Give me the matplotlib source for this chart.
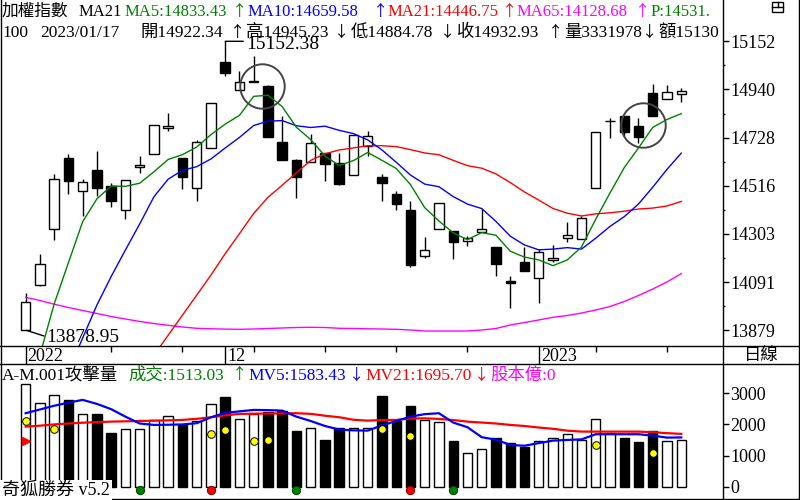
import numpy as np
import matplotlib
matplotlib.use("Agg")
from matplotlib import pyplot as plt
from matplotlib.lines import Line2D
from matplotlib.patches import Rectangle

plt.rcParams['font.family'] = ['Liberation Serif', 'Noto Sans CJK TC', 'DejaVu Sans']

W, H = 800, 500

# daily candles, 2022/11/11 .. 2023/01/17
opens = [13878.95, 14079.9, 14326.7, 14638.2, 14491.5, 14585.3, 14514.8, 14407.7, 14598.5, 14654.5,
         14769.1, 14638.2, 14504.7, 14680.9, 15059.9, 14936.5, 14973.5, 14955.4, 14708.7, 14629.4,
         14621.9, 14658.9, 14614.8, 14562.0, 14692.4, 14554.5, 14479.6, 14409.1, 14205.0, 14324.0,
         14315.2, 14271.1, 14310.8, 14244.7, 14096.2, 14178.6, 14108.1, 14187.4, 14284.4, 14280.0,
         14504.7, 14800.0, 14823.2, 14779.2, 14924.6, 14896.8, 14922.34]
highs = [14042.0, 14215.2, 14567.7, 14655.8, 14545.7, 14669.0, 14526.7, 14539.9, 14647.0, 14782.3,
         14836.5, 14638.2, 14717.5, 14880.5, 15152.38, 15021.5, 15087.6, 14959.8, 14821.9, 14633.8,
         14743.9, 14658.9, 14660.2, 14738.2, 14757.2, 14567.7, 14492.8, 14448.7, 14288.8, 14438.6,
         14315.2, 14295.8, 14413.5, 14244.7, 14116.9, 14247.3, 14235.9, 14253.5, 14356.2, 14382.6,
         14751.4, 14814.4, 14823.2, 14813.1, 14964.3, 14959.8, 14945.23]
lows = [13878.95, 14075.5, 14276.9, 14479.6, 14383.9, 14472.1, 14423.6, 14369.4, 14573.4, 14654.5,
        14758.5, 14502.9, 14450.0, 14680.9, 15000.8, 14936.5, 14973.1, 14732.0, 14630.7, 14463.3,
        14621.9, 14538.2, 14517.9, 14562.0, 14648.3, 14450.0, 14410.4, 14159.2, 14198.9, 14324.0,
        14194.5, 14251.8, 14310.8, 14119.6, 13978.6, 14139.0, 14000.6, 14178.6, 14269.4, 14280.0,
        14504.7, 14727.6, 14735.1, 14703.0, 14824.6, 14896.8, 14884.78]
closes = [14002.4, 14169.8, 14545.7, 14538.2, 14531.1, 14507.3, 14450.0, 14539.9, 14607.3, 14782.3,
          14779.2, 14555.8, 14707.4, 14880.5, 15014.0, 14971.7, 14975.3, 14732.0, 14630.7, 14555.8,
          14703.0, 14613.1, 14523.6, 14738.2, 14735.1, 14529.4, 14434.2, 14168.0, 14231.5, 14438.6,
          14269.4, 14284.4, 14324.0, 14172.4, 14087.4, 14139.0, 14222.7, 14197.6, 14297.6, 14372.5,
          14751.4, 14802.0, 14754.1, 14732.0, 14824.6, 14927.7, 14932.93]

nan = np.nan
ma5 = [nan, 13770, 13994.9, 14176.8, 14357.4, 14458.4, 14514.5, 14513.3, 14527.1, 14577.4,
       14631.7, 14652.9, 14686.4, 14741.0, 14787.4, 14825.9, 14909.8, 14914.7, 14864.7, 14773.1,
       14719.4, 14646.9, 14605.2, 14626.7, 14662.6, 14627.9, 14592.1, 14521.0, 14419.6, 14360.3,
       14308.3, 14278.4, 14309.6, 14297.8, 14227.5, 14201.4, 14189.1, 14163.8, 14188.9, 14245.9,
       14368.4, 14484.2, 14595.5, 14682.4, 14772.8, 14808.1, 14833.43]
ma10 = [nan, nan, nan, 13699.6, 13845.0, 13990.4, 14116.0, 14232.8, 14347.4, 14467.4,
        14545.1, 14583.7, 14599.9, 14634.1, 14682.4, 14728.8, 14781.3, 14800.6, 14802.9, 14780.2,
        14772.6, 14778.4, 14760.0, 14745.7, 14717.9, 14673.6, 14619.5, 14563.1, 14523.2, 14511.5,
        14468.1, 14435.2, 14415.3, 14358.7, 14293.9, 14254.9, 14233.7, 14236.7, 14243.3, 14236.7,
        14284.9, 14336.7, 14379.7, 14435.6, 14509.4, 14588.2, 14659.58]
ma21 = [nan, nan, nan, nan, nan, nan, nan, nan, nan, 13770,
        13857.0, 13945.5, 14033.6, 14122.2, 14216.5, 14304.6, 14394.1, 14464.6, 14518.3, 14573.0,
        14627.6, 14656.7, 14673.5, 14682.7, 14692.1, 14692.0, 14688.5, 14675.1, 14660.4, 14652.4,
        14627.9, 14604.4, 14593.3, 14567.9, 14530.1, 14488.4, 14452.8, 14415.7, 14395.0, 14382.7,
        14392.1, 14396.8, 14403.5, 14413.4, 14417.5, 14426.7, 14446.75]
ma65 = [14024.4, 14010.3, 13994.0, 13979.4, 13966.2, 13953.0, 13939.8, 13928.8, 13917.8, 13908.9,
        13901.0, 13893.5, 13887.8, 13885.6, 13884.3, 13883.4, 13884.7, 13886.9, 13889.1, 13891.3,
        13892.2, 13891.3, 13887.8, 13886.9, 13885.6, 13884.7, 13883.4, 13880.3, 13875.9, 13875.9,
        13875.9, 13875.9, 13880.3, 13886.9, 13902.3, 13913.3, 13924.4, 13936.3, 13944.2, 13955.2,
        13968.4, 13983.9, 14005.9, 14032.3, 14061.0, 14091.8, 14128.68]

# attack volume
vol = [3302, 2691, 2949, 2788, 2338, 2338, 1727, 1846, 1846, 2145, 2273, 1974, 2122, 2659, 2884, 2177,
       2328, 2412, 2444, 1801, 1878, 1502, 1878, 1878, 1878, 2916, 2100, 2595, 2145, 2070, 1469, 1073,
       1212, 1566, 1405, 1286, 1469, 1566, 1685, 1502, 2177, 1717, 1566, 1437, 1801, 1469, 1513]
mv5 = [2360, 2480, 2600, 2700, 2788, 2660, 2490, 2250, 2030, 1984, 1990, 2000, 2040, 2230, 2370, 2420,
       2466, 2460, 2444, 2250, 2110, 1950, 1835, 1810, 1801, 1970, 2110, 2250, 2330, 2360, 2060, 1910,
       1590, 1510, 1341, 1315, 1400, 1480, 1502, 1520, 1685, 1685, 1685, 1685, 1640, 1576, 1583]
mv21 = [1929, 1960, 2000, 2030, 2055, 2075, 2090, 2100, 2110, 2120, 2130, 2145, 2180, 2230, 2290, 2338,
        2345, 2350, 2355, 2360, 2340, 2280, 2231, 2150, 2122, 2140, 2145, 2190, 2195, 2177, 2140, 2090,
        2060, 2030, 1984, 1950, 1900, 1860, 1800, 1770, 1769, 1769, 1769, 1769, 1750, 1720, 1696]

# signal markers in the volume panel
yellow_idx = [0, 2, 13, 14, 16, 17, 25, 27, 40, 44]
yellow_val = [2122, 1855, 1695, 1823, 1479, 1502, 1855, 1630, 1341, 1093]
flag_idx, flag_val = [0], [1480]
green_dot_idx = [8, 19, 30]
red_dot_idx = [13, 27]

# circled spots on the price panel (index, price)
circle_idx = [16.6, 43.3]
circle_val = [14954.5, 14784.5]

# date axis
minor_ticks = [6, 11, 16, 21, 26, 31, 40, 45]
major_ticks = [0, 14, 36]
major_labels = ['2022', '12', '2023']

o = np.array(opens); c = np.array(closes)
hi_arr = np.array(highs); lo_arr = np.array(lows)
n = len(o)
x = np.arange(n)
up = c >= o

def fx(px):
    return px / W

def fy(py):
    return 1 - py / H

fig = plt.figure(figsize=(W / 100, H / 100), dpi=100)
fig.patch.set_facecolor('white')

ax = fig.add_axes([fx(1), fy(346), 722 / W, 346 / H])
axd = fig.add_axes([fx(1), fy(364), 722 / W, 18 / H])
axv = fig.add_axes([fx(1), fy(498), 722 / W, 134 / H])

xlim = (-1.73, n + 1.93)
hi, lo = hi_arr.max(), lo_arr.min()
rng = hi - lo

#PRICE PANEL
ax.vlines(x, lo_arr, hi_arr, color='black', lw=1, zorder=2)
body_h = np.maximum(np.abs(c - o), 2.0)
ax.bar(x, body_h, bottom=np.minimum(o, c), width=0.66,
       color=np.where(up, 'white', 'black'), edgecolor='black', linewidth=1, zorder=3)

ax.plot(x, ma65, color='#FF00FF', lw=1, zorder=4)
ax.plot(x, ma21, color='#FF0000', lw=1, zorder=4)
ax.plot(x, ma10, color='#0000FF', lw=1, zorder=4)
ax.plot(x, ma5, color='#008000', lw=1, zorder=4)

ax.plot(circle_idx, circle_val, 'o', ms=32, mfc='none', mec='#444444', mew=1.4, zorder=5)

# max / min labels
jh = int(np.argmax(hi_arr)); jl = int(np.argmin(lo_arr))
ax.annotate('', xy=(jh, hi), xytext=(13, 0), textcoords='offset points',
            arrowprops=dict(arrowstyle='-', lw=1, color='black', shrinkA=0, shrinkB=0))
ax.annotate('%.2f' % hi, xy=(jh, hi), xytext=(15.4, -5.6), textcoords='offset points',
            ha='left', va='baseline', fontsize=14)
ax.annotate('', xy=(jl + 0.05, lo), xytext=(12.7, -4.1), textcoords='offset points',
            arrowprops=dict(arrowstyle='-', lw=1, color='black', shrinkA=0, shrinkB=0))
ax.annotate('%.2f' % lo, xy=(jl, lo), xytext=(15.1, -8.1), textcoords='offset points',
            ha='left', va='baseline', fontsize=14)

ax.set_xlim(*xlim)
ax.set_ylim(lo - 0.0543 * rng, hi + 0.1429 * rng)
yt = lo + np.arange(7) * rng / 6
ax.yaxis.tick_right()
ax.set_yticks(yt)
ax.set_yticklabels(['%d' % round(v) for v in yt])
ax.set_yticks(yt[:-1] + rng / 12, minor=True)
ax.tick_params(axis='y', which='major', direction='out', length=4, width=1, pad=1, labelsize=13)
ax.tick_params(axis='y', which='minor', direction='out', length=1.5, width=1)
ax.set_xticks([])

#DATE STRIP
axd.set_xlim(*xlim)
axd.set_ylim(0, 1)
axd.vlines(minor_ticks, 1 - 6 / 18, 1, color='black', lw=1)
axd.vlines(major_ticks, 0, 1, color='black', lw=1)
for j, lab in zip(major_ticks, major_labels):
    axd.annotate(lab, xy=(j, 0), xytext=(1.5, 2.4), textcoords='offset points',
                 ha='left', va='baseline', fontsize=13)
axd.set_xticks([]); axd.set_yticks([])

#VOLUME PANEL
axv.bar(x, vol, width=0.66, color=np.where(up, 'white', 'black'),
        edgecolor='black', linewidth=1, zorder=2)
axv.plot(x, mv21, color='#FF0000', lw=1.6, zorder=3)
axv.plot(x, mv5, color='#0000FF', lw=1.6, zorder=3)
axv.plot(yellow_idx, yellow_val, 'o', ms=5.5, mfc='#FFFF00', mec='black', mew=0.7, zorder=4)
axv.plot(flag_idx, flag_val, '>', ms=6, mfc='#FF0000', mec='#FF0000', zorder=4)
axv.plot(green_dot_idx, [-106] * len(green_dot_idx), 'o', ms=6, mfc='#008000', mec='#004000', mew=0.7, zorder=4)
axv.plot(red_dot_idx, [-106] * len(red_dot_idx), 'o', ms=6, mfc='#FF0000', mec='#800000', mew=0.7, zorder=4)
axv.set_xlim(*xlim)
axv.set_ylim(-363, 3941)
axv.yaxis.tick_right()
axv.set_yticks([0, 1000, 2000, 3000])
axv.set_xticks([])
axv.tick_params(axis='y', direction='out', length=4, width=1, pad=1, labelsize=13)

for a in (ax, axd, axv):
    for s in ('top', 'bottom', 'left'):
        a.spines[s].set_visible(False)
    a.spines['right'].set_linewidth(1)
    a.set_facecolor('white')

# panel frame lines
for py in (346, 364, 498.5):
    fig.add_artist(Line2D([0, 1], [fy(py), fy(py)], color='black', lw=1))
fig.add_artist(Line2D([fx(0.5), fx(0.5)], [fy(0), fy(499)], color='black', lw=1))
fig.add_artist(Line2D([fx(798.5), fx(798.5)], [fy(0), fy(499)], color='black', lw=1))

# window icon
fig.add_artist(Rectangle((fx(772), fy(12)), 11 / W, 10 / H, fill=False, ec='black', lw=1))
fig.add_artist(Line2D([fx(772), fx(783)], [fy(7), fy(7)], color='black', lw=1))
fig.add_artist(Line2D([fx(778), fx(778)], [fy(2), fy(7)], color='black', lw=1))

#HEADER TEXTS  (text, x, colour, arrow, arrow centre x)
hdr1 = [('加權指數', 2, 'black', '', 0), ('MA21', 79, 'black', '', 0),
        ('MA5:14833.43', 125, '#008000', '↑', 240), ('MA10:14659.58', 248, '#0000FF', '↑', 381),
        ('MA21:14446.75', 388, '#FF0000', '↑', 510), ('MA65:14128.68', 517, '#FF00FF', '↑', 643),
        ('P:14531.', 651, '#008000', '', 0)]
hdr2 = [('100', 2, 'black', '', 0), ('2023/01/17', 40, 'black', '', 0),
        ('開14922.34', 140, 'black', '↑', 238), ('高14945.23', 246, 'black', '↓', 342),
        ('低14884.78', 351, 'black', '↓', 448), ('收14932.93', 457, 'black', '↑', 556),
        ('量3331978', 564, 'black', '↓', 650), ('額15130', 658, 'black', '', 0)]
hdr3 = [('A-M.001攻擊量', 2, 'black', '', 0), ('成交:1513.03', 128, '#008000', '↑', 240),
        ('MV5:1583.43', 248, '#0000FF', '↓', 357), ('MV21:1695.70', 365, '#FF0000', '↓', 482),
        ('股本億:0', 490, '#FF00FF', '', 0)]

for items, base, fs in ((hdr1, 16, 12), (hdr2, 37, 12.5), (hdr3, 379.5, 12.5)):
    for txt, px, col, arr, apx in items:
        fig.text(fx(px), fy(base), txt, color=col, fontsize=fs, ha='left', va='baseline')
        if arr:
            fig.text(fx(apx), fy(base), arr, color=col, fontsize=11, ha='center', va='baseline',
                     family=['Noto Sans CJK TC'])

fig.text(fx(2), fy(495), '奇狐勝券 v5.2', color='black', fontsize=13, ha='left', va='baseline',
         bbox=dict(facecolor='white', edgecolor='none', pad=1.5), zorder=10)
fig.text(fx(761), fy(356), '日線', color='black', fontsize=12.5, ha='center', va='center')

plt.savefig('out.png', dpi=100, facecolor='white')
